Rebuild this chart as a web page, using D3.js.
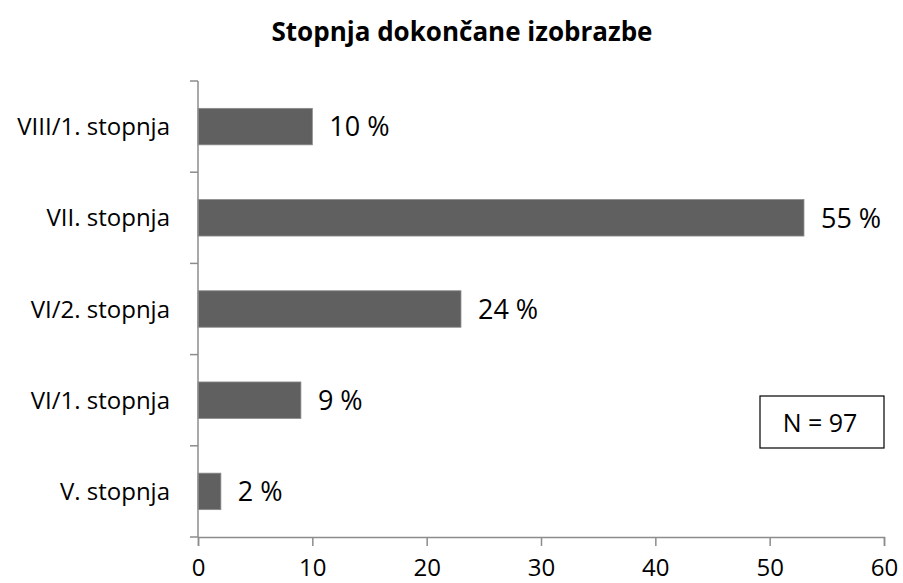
<!DOCTYPE html>
<html>
<head>
<meta charset="utf-8">
<script src="https://cdn.jsdelivr.net/npm/d3@7"></script>
<style>
  body { margin: 0; background: #fff; }
  text { font-family: "Open Sans", sans-serif; fill: #000; }
</style>
</head>
<body>
<svg id="chart"></svg>
<script>
// Chart data
const categories = ["VIII/1. stopnja", "VII. stopnja", "VI/2. stopnja", "VI/1. stopnja", "V. stopnja"];
const counts = [10, 53, 23, 9, 2];
const percentLabels = ["10 %", "55 %", "24 %", "9 %", "2 %"];
const xTicks = [0, 10, 20, 30, 40, 50, 60];
const totalN = 97;

const width = 903;
const height = 583;

const svg = d3.select("#chart")
    .attr("width", width)
    .attr("height", height);

// Scales
const x = d3.scaleLinear().domain([0, 60]).range([198, 884]);
const y = d3.scaleBand()
    .domain(categories)
    .range([81, 537])
    .paddingInner(0.6)
    .paddingOuter(0.3);

const axisColor = "#8c8c8c";

// Title
svg.append("text")
    .attr("x", 462)
    .attr("y", 41)
    .attr("text-anchor", "middle")
    .style("font-size", "26px")
    .style("font-weight", "bold")
    .text("Stopnja dokončane izobrazbe");

// Bars
const data = categories.map((c, i) => ({cat: c, value: counts[i], label: percentLabels[i]}));

svg.selectAll("rect.bar")
    .data(data)
    .join("rect")
    .attr("class", "bar")
    .attr("x", x(0))
    .attr("y", d => y(d.cat))
    .attr("width", d => x(d.value) - x(0))
    .attr("height", y.bandwidth())
    .attr("fill", "#606060")
    .attr("stroke", "#8a8a8a")
    .attr("stroke-width", 0.8);

// Value labels
svg.selectAll("text.val")
    .data(data)
    .join("text")
    .attr("class", "val")
    .attr("x", d => x(d.value) + 17)
    .attr("y", d => y(d.cat) + y.bandwidth() / 2)
    .attr("dy", "0.36em")
    .style("font-size", "27px")
    .text(d => d.label);

// Y axis: line, boundary ticks, category labels
const step = y.step();
const y0 = y.range()[0];
const boundaries = d3.range(categories.length + 1).map(i => y0 + i * step);

svg.append("line")
    .attr("x1", x(0)).attr("x2", x(0))
    .attr("y1", y.range()[0]).attr("y2", y.range()[1])
    .attr("stroke", axisColor).attr("stroke-width", 1.5);

svg.selectAll("line.ytick")
    .data(boundaries)
    .join("line")
    .attr("class", "ytick")
    .attr("x1", x(0) - 8).attr("x2", x(0))
    .attr("y1", d => d).attr("y2", d => d)
    .attr("stroke", axisColor).attr("stroke-width", 1.5);

svg.selectAll("text.cat")
    .data(categories)
    .join("text")
    .attr("class", "cat")
    .attr("x", 170)
    .attr("y", d => y(d) + y.bandwidth() / 2)
    .attr("dy", "0.36em")
    .attr("text-anchor", "end")
    .style("font-size", "24px")
    .text(d => d);

// X axis
const xAxis = svg.append("g")
    .attr("transform", `translate(0,${y.range()[1]})`)
    .call(d3.axisBottom(x).tickValues(xTicks).tickSize(9).tickFormat(d3.format("d")));

xAxis.select(".domain").attr("stroke", axisColor).attr("stroke-width", 1.5);
xAxis.selectAll(".tick line").attr("stroke", axisColor).attr("stroke-width", 1.5);
xAxis.selectAll(".tick text")
    .attr("y", 39)
    .attr("dy", "0")
    .style("font-size", "24px")
    .style("font-family", "'Open Sans', sans-serif")
    .attr("fill", "#000");

// N box
const box = svg.append("g").attr("transform", "translate(760,396)");
box.append("rect")
    .attr("width", 124).attr("height", 52)
    .attr("fill", "#fff").attr("stroke", "#000").attr("stroke-width", 1.2);
box.append("text")
    .attr("x", 60).attr("y", 27)
    .attr("dy", "0.36em")
    .attr("text-anchor", "middle")
    .style("font-size", "25px")
    .text(`N = ${totalN}`);
</script>
</body>
</html>
